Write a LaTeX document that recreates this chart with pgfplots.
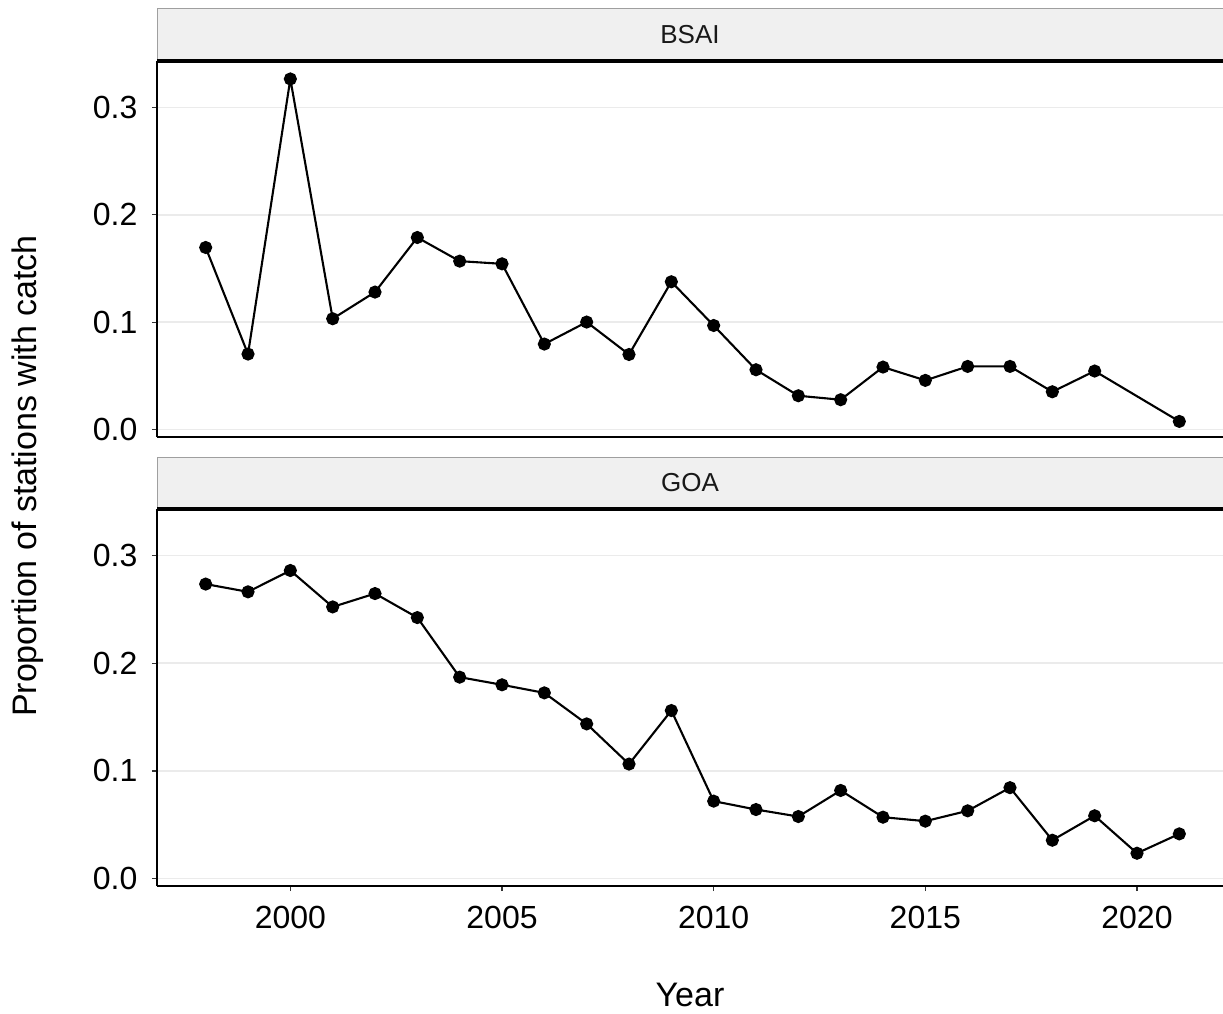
\documentclass[border=0pt]{standalone}
\usepackage{fontspec}
\setmainfont{Liberation Sans}
\usepackage{pgfplots}
\pgfplotsset{compat=1.18}

\definecolor{stripfill}{HTML}{F0F0F0}
\definecolor{gridgrey}{HTML}{EBEBEB}
\definecolor{tickgrey}{HTML}{333333}

% shared look of both facets
\pgfplotsset{
  facet/.style={
    scale only axis,
    width=535.5bp, height=188bp,
    xmin=1996.85, xmax=2022.15,
    ymin=-0.0068, ymax=0.3432,
    axis x line*=bottom, axis y line*=left,
    axis line style={-, line width=1.15bp, black},
    ytick={0,0.1,0.2,0.3},
    ymajorgrids=true,
    grid style={gridgrey, line width=0.8bp},
    tick align=outside,
    major tick length=2.6bp,
    tick style={tickgrey, line width=0.6bp},
    yticklabel style={inner sep=0pt, xshift=-7bp,
      font=\fontsize{16bp}{18bp}\selectfont,
      /pgf/number format/.cd, fixed, fixed zerofill, precision=1, assume math mode=true},
    xticklabel style={inner sep=0pt, yshift=-7.5bp,
      font=\fontsize{16bp}{18bp}\selectfont,
      /pgf/number format/.cd, 1000 sep={}, assume math mode=true},
    clip=false,
  },
  series/.style={black, line width=1.05bp, mark=*, mark size=2.75bp,
    mark options={solid, fill=black}},
}

\begin{document}
\begin{tikzpicture}
% ---------- BSAI ----------
\fill[stripfill] (78.5bp,-4bp) rectangle (614bp,-30.5bp);
\draw[gray!75, line width=0.5bp] (78.5bp,-30.5bp) -- (78.5bp,-4bp) -- (614bp,-4bp);
\node[font=\fontsize{13bp}{15bp}\selectfont, text=black!90] at (345bp,-17.5bp) {BSAI};

\begin{axis}[facet, at={(78.5bp,-30.5bp)}, anchor=north west, xtick=\empty]
\addplot[series] coordinates {
  (1998,0.1696) (1999,0.0704) (2000,0.3265) (2001,0.1033) (2002,0.1281)
  (2003,0.1789) (2004,0.1569) (2005,0.1544) (2006,0.0797) (2007,0.1002)
  (2008,0.0700) (2009,0.1377) (2010,0.0970) (2011,0.0558) (2012,0.0316)
  (2013,0.0279) (2014,0.0583) (2015,0.0459) (2016,0.0589) (2017,0.0589)
  (2018,0.0353) (2019,0.0546) (2021,0.0077)
};
\end{axis}
\draw[black, line width=1.6bp] (78.5bp,-30.5bp) -- (614bp,-30.5bp);

% ---------- GOA ----------
\fill[stripfill] (78.5bp,-228.5bp) rectangle (614bp,-254.5bp);
\draw[gray!75, line width=0.5bp] (78.5bp,-254.5bp) -- (78.5bp,-228.5bp) -- (614bp,-228.5bp);
\node[font=\fontsize{13bp}{15bp}\selectfont, text=black!90] at (345bp,-241.5bp) {GOA};

\begin{axis}[facet, at={(78.5bp,-254.5bp)}, anchor=north west, height=188.5bp,
  xtick={2000,2005,2010,2015,2020}]
\addplot[series] coordinates {
  (1998,0.2735) (1999,0.2663) (2000,0.2861) (2001,0.2523) (2002,0.2647)
  (2003,0.2424) (2004,0.1871) (2005,0.1800) (2006,0.1725) (2007,0.1437)
  (2008,0.1064) (2009,0.1561) (2010,0.0720) (2011,0.0642) (2012,0.0577)
  (2013,0.0819) (2014,0.0571) (2015,0.0534) (2016,0.0630) (2017,0.0845)
  (2018,0.0357) (2019,0.0584) (2020,0.0236) (2021,0.0416)
};
\end{axis}
\draw[black, line width=1.6bp] (78.5bp,-254.5bp) -- (614bp,-254.5bp);

% ---------- axis titles ----------
\node[rotate=90, font=\fontsize{17bp}{19bp}\selectfont] at (14bp,-238bp) {Proportion of stations with catch};
\node[font=\fontsize{17bp}{19bp}\selectfont] at (345bp,-497.5bp) {Year};

% page frame: 1223 x 1014 px at 0.5bp per px (panels run past the right edge)
\pgfresetboundingbox
\useasboundingbox (0,0) rectangle (611.5bp,-507bp);
\end{tikzpicture}
\end{document}
